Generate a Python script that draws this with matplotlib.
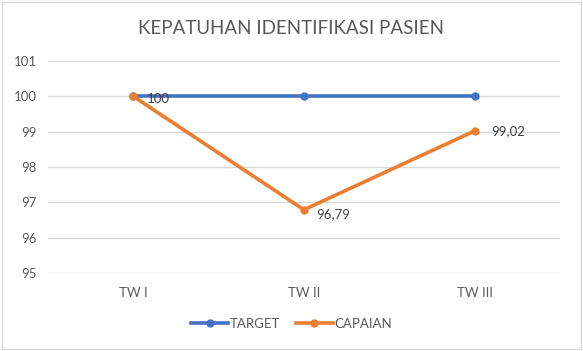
import matplotlib
matplotlib.use("Agg")
from matplotlib import pyplot as plt
from matplotlib.patches import Rectangle

categories = ["TW I", "TW II", "TW III"]
target = [100, 100, 100]
capaian = [100, 96.79, 99.02]
capaian_labels = ["100", "96,79", "99,02"]
title = "KEPATUHAN IDENTIFIKASI PASIEN"

plt.rcParams["font.family"] = ["Lato", "DejaVu Sans"]
text_color = "#595959"
blue = "#4472C4"
orange = "#ED7D31"

fig = plt.figure(figsize=(5.83, 3.51), dpi=100)
ax = fig.add_axes([0.0823, 0.2222, 0.878, 0.604])

x = list(range(len(categories)))
ax.plot(x, target, "-o", color=blue, lw=2.6, ms=5, label="TARGET", zorder=3)
ax.plot(x, capaian, "-o", color=orange, lw=2.6, ms=5, label="CAPAIAN", zorder=4)

offsets = [(10, -2), (9, -3), (12, 0)]
for xi, yi, lab, off in zip(x, capaian, capaian_labels, offsets):
    ax.annotate(lab, (xi, yi), xytext=off, textcoords="offset points",
                ha="left", va="center", fontsize=9.5, color="#404040", zorder=5)

ax.set_xlim(-0.5, 2.5)
ax.set_ylim(95, 101)
ax.set_xticks(x)
ax.set_xticklabels(categories)
ax.set_yticks(range(95, 102))
ax.grid(axis="y", color="#D9D9D9", lw=1)
ax.set_axisbelow(True)
for s in ax.spines.values():
    s.set_visible(False)
ax.tick_params(length=0, labelsize=9.5, colors=text_color, pad=8)
ax.tick_params(axis="x", pad=10)

fig.text(0.5, 0.918, title, ha="center", va="center", fontsize=13.5, color=text_color)
ax.legend(loc="center", bbox_to_anchor=(0.5, 1 - 324 / 351), bbox_transform=fig.transFigure,
          ncol=2, frameon=False, fontsize=9.5, labelcolor=text_color,
          handlelength=2.8, handletextpad=0.1, columnspacing=1.2)

fig.patches.append(Rectangle((0.004, 0.006), 0.992, 0.988, transform=fig.transFigure,
                             fill=False, edgecolor="#D9D9D9", lw=1))

fig.savefig("out.png", dpi=100)
